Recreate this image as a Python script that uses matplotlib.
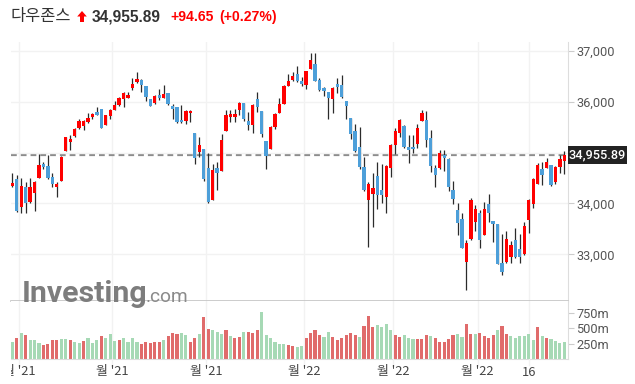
import matplotlib
matplotlib.use('Agg')
import matplotlib.pyplot as plt
from matplotlib.patches import Rectangle, Polygon

# ---------------- data ----------------
title_name = "다우존스"
last_price_text = "34,955.89"
change_text = "+94.65"
change_pct_text = "(+0.27%)"

opens = [34342, 34473, 33936, 34322, 34034, 34211, 34505, 34774, 34735, 34518,
         34322, 34446, 35036, 35213, 35324, 35488, 35514, 35606, 35704, 35795,
         35848, 35547, 35723, 35835, 35933, 36051, 36077, 36274, 36391, 36424,
         36306, 36051, 35979, 36129, 36077, 36169, 35913, 35887, 35638, 35625,
         35769, 35383, 35016, 35069, 34689, 34066, 34702, 34643, 35429, 35697,
         35700, 35841, 35972, 35625, 35547, 36044, 35815, 35226, 35075, 35507,
         35776, 35953, 36313, 36424, 36542, 36404, 36326, 36640, 36738, 36424,
         36274, 36188, 36051, 36346, 36326, 36012, 35678, 35429, 35108, 34715,
         34066, 34191, 34538, 34263, 34132, 34702, 35147, 35389, 35520, 35108,
         35108, 35173, 35625, 35638, 35278, 34702, 34689, 34951, 34872, 34256,
         33870, 33693, 32842, 33294, 33641, 33818, 33385, 33988, 33654, 33595,
         32835, 32855, 32953, 33281, 33104, 32999, 33667, 33994, 34387, 34675,
         34702, 34754, 34414, 34708, 34833]
highs = [34590, 34558, 34492, 34414, 34492, 34440, 34977, 34813, 34944, 34590,
         34427, 34931, 35311, 35337, 35475, 35664, 35638, 35769, 35782, 35887,
         35854, 35743, 35848, 36012, 36097, 36195, 36195, 36457, 36575, 36437,
         36313, 36058, 36129, 36241, 36319, 36176, 35953, 35900, 35933, 35835,
         35835, 35390, 35311, 35075, 34996, 34767, 34820, 35363, 35835, 35835,
         35848, 35998, 35979, 35795, 35953, 36195, 35822, 35230, 35520, 35769,
         36064, 36326, 36535, 36575, 36699, 36490, 36608, 36948, 36948, 36470,
         36293, 36195, 36293, 36457, 36522, 36018, 35685, 35553, 35494, 34905,
         34427, 34590, 34820, 34767, 34748, 35160, 35475, 35664, 35540, 35337,
         35337, 35553, 35835, 35815, 35442, 34754, 35049, 35049, 34885, 34440,
         34014, 33818, 33281, 34099, 33962, 33870, 34021, 34184, 33660, 33600,
         33398, 33451, 33268, 33510, 33392, 33641, 34080, 34499, 34787, 34813,
         34892, 34761, 34735, 34951, 35023]
lows = [34315, 33837, 33805, 33818, 34014, 33857, 34495, 34669, 34486, 34328,
        34119, 34440, 35029, 35049, 35298, 35468, 35442, 35573, 35664, 35737,
        35480, 35540, 35651, 35830, 35913, 35900, 36064, 36228, 36372, 36182,
        36018, 35913, 35953, 36031, 36070, 35933, 35664, 35573, 35586, 35553,
        35606, 34767, 34905, 34433, 34014, 34060, 34263, 34636, 35425, 35606,
        35592, 35730, 35625, 35442, 35389, 35795, 35298, 34669, 35069, 35455,
        35769, 35950, 36306, 36411, 36385, 36313, 36254, 36634, 36398, 36215,
        36116, 35651, 35782, 36169, 36064, 35651, 35272, 35016, 34675, 34243,
        33150, 33543, 33883, 34001, 33818, 34512, 34970, 35298, 35082, 34800,
        35000, 35095, 35618, 35114, 34623, 34315, 34675, 34643, 34250, 33981,
        33379, 33117, 32298, 33281, 33464, 33117, 33379, 33641, 33248, 32809,
        32593, 32835, 32822, 32920, 32822, 32986, 33412, 33903, 34381, 34355,
        34689, 34348, 34375, 34590, 34571]
closes = [34394, 33850, 34342, 34014, 34322, 34420, 34754, 34721, 34505, 34381,
          34381, 34918, 35304, 35265, 35455, 35619, 35619, 35678, 35756, 35743,
          35488, 35730, 35828, 35926, 36064, 36169, 36123, 36352, 36444, 36332,
          36097, 35920, 36110, 36077, 36156, 35946, 35854, 35606, 35592, 35809,
          35822, 34898, 35147, 34486, 34027, 34656, 34590, 35245, 35730, 35756,
          35760, 35979, 35658, 35540, 35933, 35900, 35370, 34937, 35494, 35756,
          35953, 36306, 36398, 36503, 36404, 36346, 36601, 36817, 36404, 36228,
          36208, 36077, 36267, 36293, 36097, 35913, 35370, 35029, 34715, 34263,
          34381, 34302, 34165, 34165, 34735, 35147, 35422, 35638, 35108, 35055,
          35060, 35481, 35776, 35252, 34741, 34564, 34983, 34892, 34315, 34086,
          33608, 33130, 33222, 34066, 33890, 33287, 33890, 33805, 33601, 32816,
          32645, 33300, 33189, 32953, 32953, 33556, 34066, 34479, 34754, 34558,
          34813, 34368, 34708, 34872, 34955.89]
# volume in millions
volumes = [275, 347, 424, 390, 314, 314, 264, 231, 248, 314,
           314, 330, 330, 314, 275, 264, 292, 347, 264, 314,
           369, 347, 413, 292, 314, 347, 281, 347, 281, 248,
           281, 264, 275, 275, 314, 369, 429, 413, 429, 396,
           281, 347, 413, 688, 495, 479, 440, 413, 479, 380,
           347, 363, 446, 446, 424, 479, 776, 390, 347, 281,
           248, 248, 231, 215, 198, 215, 347, 429, 479, 396,
           363, 446, 363, 314, 347, 396, 429, 396, 363, 534,
           699, 528, 561, 528, 578, 479, 396, 363, 396, 347,
           330, 330, 330, 396, 380, 347, 281, 281, 330, 396,
           413, 363, 578, 413, 413, 429, 380, 347, 396, 479,
           545, 413, 380, 347, 380, 380, 413, 314, 528, 380,
           347, 330, 297, 264, 281]
# g = close above previous close, r = below
volume_dir = list("grgrgggrrrrggrggrgggrggg"
                  "rggggrrrrrgrrrggrrgrrgg"
                  "grgrrgrrrggggggrrggrrrrggr"
                  "rrrrrgrrrggggrrgggrrrgrrr"
                  "rrggrrgrrrrgrrggggggrgrggg")
volume_dir = volume_dir[:len(volumes)]
tick_idx = [2, 23, 44, 66, 86, 105, 116]
tick_labels = ["월 '21", "월 '21", "월 '21", "월 '22", "월 '22", "월 '22", "16"]
price_ticks = [33000, 34000, 35000, 36000, 37000]
vol_ticks = [250, 500, 750]

# ---------------- style ----------------
W, H = 635, 384
UP = '#ff0000'
DOWN = '#4d9fd9'
WICK = '#2b2b2b'
VUP = '#a6d9b5'
VDOWN = '#e06b6b'
GRID = '#f2f2f2'
LABEL = '#555555'

fig = plt.figure(figsize=(W / 100, H / 100), dpi=100)
fig.patch.set_facecolor('white')


def fr(x0, y0, x1, y1):
    return [x0 / W, 1 - y1 / H, (x1 - x0) / W, (y1 - y0) / H]


def fx(x):
    return x / W


def fy(y):
    return 1 - y / H


X0, X1 = 11, 567.7
ax = fig.add_axes(fr(X0, 42, X1, 301))
axv = fig.add_axes(fr(X0, 301, X1, 359))
axl = fig.add_axes(fr(X0, 359, X1, 384))

n = len(closes)
xs = list(range(n))
xlim = (-0.29, 124.75)

# candles
for i in xs:
    o, h, l, c = opens[i], highs[i], lows[i], closes[i]
    col = UP if c >= o else DOWN
    ax.vlines(i, l, h, color=WICK, lw=0.9, zorder=2)
    ax.bar(i, max(abs(c - o), 12), bottom=min(o, c), width=0.74,
           color=col, lw=0, zorder=3)

ax.set_xlim(*xlim)
ax.set_ylim(32083, 37171)
ax.set_yticks(price_ticks)
ax.yaxis.tick_right()
# the 35,000 label sits under the last-price box, as in the reference
ax.set_yticklabels(["" if abs(t - closes[-1]) < 300 else f"{t:,}"
                    for t in price_ticks], fontsize=9.2,
                   color=LABEL, family='Roboto')
ax.tick_params(axis='y', length=4, color='#cccccc', pad=2)
ax.set_xticks([])
ax.grid(axis='y', color=GRID, lw=1, zorder=0)
for t in tick_idx[:-1]:
    ax.axvline(t - 0.5, color=GRID, lw=1, zorder=0)
ax.axvline(tick_idx[-1], color=GRID, lw=1, zorder=0)
for s in ['top', 'left']:
    ax.spines[s].set_visible(False)
ax.spines['right'].set_color('#dddddd')
ax.spines['bottom'].set_color('#c4c4c4')
ax.spines['bottom'].set_linewidth(1.2)

# last price dashed line
ax.axhline(closes[-1], color='#8c8c8c', lw=1.6, dashes=(2.6, 1.8), zorder=1)

# volume
vcols = [VUP if d == 'g' else VDOWN for d in volume_dir]
axv.bar(xs, volumes, width=0.7, color=vcols, lw=0, zorder=2)
axv.set_xlim(*xlim)
axv.set_ylim(0, 948)
axv.set_yticks(vol_ticks)
axv.yaxis.tick_right()
axv.set_yticklabels([f"{t}m" for t in vol_ticks], fontsize=9.2,
                    color=LABEL, family='Roboto')
axv.tick_params(axis='y', length=4, color='#cccccc', pad=2)
axv.set_xticks([])
for t in tick_idx[:-1]:
    axv.axvline(t - 0.5, color=GRID, lw=1, zorder=0)
axv.axvline(tick_idx[-1], color=GRID, lw=1, zorder=0)
for s in ['top', 'left']:
    axv.spines[s].set_visible(False)
axv.spines['right'].set_color('#dddddd')
axv.spines['bottom'].set_color('#dddddd')

# x labels (clipped to plot width)
axl.set_xlim(*xlim)
axl.set_ylim(0, 1)
axl.axis('off')
for k, (t, lab) in enumerate(zip(tick_idx, tick_labels)):
    pos = t - 0.5 if k < len(tick_idx) - 1 else t
    axl.plot([pos, pos], [0.75, 1.0], color=GRID, lw=1)
    axl.text(pos, 0.48, lab, ha='center', va='center', fontsize=9.3,
             color='#444444', family=['Noto Sans CJK KR', 'DejaVu Sans'],
             clip_on=True)

# price label box on the axis
fig.patches.append(Rectangle((fx(567.5), fy(164)), fx(627) - fx(567.5),
                             fy(146) - fy(164), transform=fig.transFigure,
                             facecolor='#222222', edgecolor='none'))
fig.text(fx(597), fy(155), last_price_text, ha='center', va='center',
         color='white', fontsize=9.2, family='Roboto', fontweight='medium')

# title
fig.text(fx(10), fy(17), title_name, ha='left', va='center', fontsize=11.8,
         color='#333333', family=['Noto Sans CJK KR', 'DejaVu Sans'])
arrow = [(82, 11), (86.8, 16.5), (84, 16.5), (84, 22), (80, 22), (80, 16.5),
         (77.2, 16.5)]
fig.patches.append(Polygon([(fx(a), fy(b)) for a, b in arrow], closed=True,
                           transform=fig.transFigure, facecolor=UP,
                           edgecolor='none'))
fig.text(fx(92), fy(17), last_price_text, ha='left', va='center',
         fontsize=11.2, fontweight='bold', color='#333333',
         family='Liberation Sans')
fig.text(fx(170), fy(17), change_text, ha='left', va='center',
         fontsize=10.1, fontweight='bold', color=UP, family='Liberation Sans')
fig.text(fx(219), fy(17), change_pct_text, ha='left', va='center',
         fontsize=10.1, fontweight='bold', color=UP, family='Liberation Sans')

# watermark
fig.text(fx(22), fy(302), "Investing", ha='left', va='baseline',
         fontsize=21.8, fontweight='bold', color='#7d7d7d', family='Roboto',
         zorder=5)
fig.text(fx(146), fy(302), ".com", ha='left', va='baseline',
         fontsize=13.8, color='#8a8a8a', family='Roboto', zorder=5)

fig.savefig('out.png', dpi=100, facecolor='white')
